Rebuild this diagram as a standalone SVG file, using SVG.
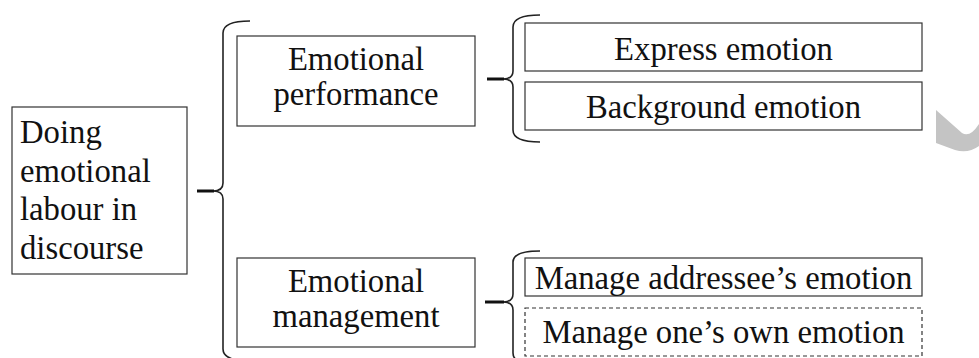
<svg xmlns="http://www.w3.org/2000/svg" width="979" height="358" viewBox="0 0 979 358">
<style>
.box{fill:#fff;stroke:#333;stroke-width:1.2}
.dash{fill:#fff;stroke:#333;stroke-width:1.2;stroke-dasharray:4 3}
.t{font-family:"Liberation Serif","Times New Roman",Tinos,serif;font-size:32.7px;fill:#111}
.c{text-anchor:middle}
.br{fill:none;stroke:#222;stroke-width:1.6}
.tip{fill:none;stroke:#111;stroke-width:3}
</style>
<rect width="979" height="358" fill="#fff"/>
<path d="M936,110 L962,133 Q970,138 979,124 L979,146 Q968,154 955,150 L936,143 Z" fill="#c4c4c4"/>
<g id="connectors">
<path class="br" d="M250,21 Q223,21 223,33 L223,183 Q223,191 213,191 M213,191 Q223,191 223,199 L223,349 Q223,361 250,361"/>
<path class="tip" d="M197,191 L214,191"/>
<path class="br" d="M540,15 Q513,15 513,27 L513,71 Q513,79 503,79 M503,79 Q513,79 513,87 L513,130 Q513,142 540,142"/>
<path class="tip" d="M487,79 L504,79"/>
<path class="br" d="M540,251 Q513,251 513,262 L513,294 Q513,302 503,302 M503,302 Q513,302 513,310 L513,353 Q513,365 540,365"/>
<path class="tip" d="M485,302 L504,302"/>
</g>
<g id="root">
<rect class="box" x="12" y="107" width="175" height="167"/>
<text class="t" x="20" y="143">Doing</text>
<text class="t" x="20" y="181.5">emotional</text>
<text class="t" x="20" y="220">labour in</text>
<text class="t" x="20" y="258.5">discourse</text>
</g>
<g id="performance">
<rect class="box" x="237" y="36" width="238" height="90"/>
<text class="t c" x="356" y="70">Emotional</text>
<text class="t c" x="356" y="105">performance</text>
</g>
<g id="management">
<rect class="box" x="237" y="258" width="238" height="89"/>
<text class="t c" x="356" y="292">Emotional</text>
<text class="t c" x="356" y="327">management</text>
</g>
<g id="express">
<rect class="box" x="525" y="23" width="397" height="48"/>
<text class="t c" x="723.5" y="60">Express emotion</text>
</g>
<g id="background">
<rect class="box" x="525" y="82" width="397" height="48"/>
<text class="t c" x="723.5" y="118">Background emotion</text>
</g>
<g id="addressee">
<rect class="box" x="525" y="258" width="397" height="38"/>
<text class="t c" x="723.5" y="289">Manage addressee’s emotion</text>
</g>
<g id="own">
<rect class="dash" x="525" y="308" width="397" height="48"/>
<text class="t c" x="723.5" y="343">Manage one’s own emotion</text>
</g>
</svg>
